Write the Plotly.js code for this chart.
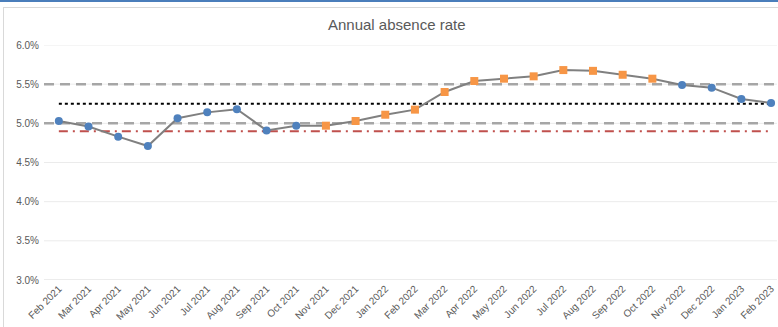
<!DOCTYPE html>
<html>
<head>
<meta charset="utf-8">
<script src="https://cdn.plot.ly/plotly-3.0.1.min.js"></script>
<style>
  html, body { margin: 0; padding: 0; background: #fff; overflow: hidden; }
  #topline { position: absolute; left: 0; top: 0; width: 778px; height: 2px; background: #4a7ebb; }
  #frame { position: absolute; left: 3px; top: 7px; width: 800px; height: 330px; border: 1px solid #d9d9d9; }
  #chart { position: absolute; left: 0; top: 0; width: 778px; height: 327px; }
</style>
</head>
<body>
<div id="topline"></div>
<div id="frame"></div>
<div id="chart"></div>
<script>
const months = ["Feb 2021","Mar 2021","Apr 2021","May 2021","Jun 2021","Jul 2021","Aug 2021","Sep 2021","Oct 2021","Nov 2021","Dec 2021","Jan 2022","Feb 2022","Mar 2022","Apr 2022","May 2022","Jun 2022","Jul 2022","Aug 2022","Sep 2022","Oct 2022","Nov 2022","Dec 2022","Jan 2023","Feb 2023"];
const rate = [5.03,4.96,4.83,4.71,5.065,5.14,5.18,4.91,4.97,4.97,5.03,5.11,5.175,5.40,5.54,5.57,5.60,5.68,5.67,5.62,5.57,5.49,5.455,5.31,5.26];
// true = highlighted (orange square) point
const highlighted = [false,false,false,false,false,false,false,false,false,true,true,true,true,true,true,true,true,true,true,true,true,false,false,false,false];
const yTicks = [3.0,3.5,4.0,4.5,5.0,5.5,6.0];
const upperLimit = 5.5;
const lowerLimit = 5.0;
const meanLine = 5.25;
const targetLine = 4.9;

const blueY = rate.map((v,i)=> highlighted[i] ? null : v/100);
const orangeY = rate.map((v,i)=> highlighted[i] ? v/100 : null);

const traces = [
  {x: months, y: months.map(()=>meanLine/100), mode:'lines', line:{color:'#000000', width:2, dash:'dot'}},
  {x: months, y: months.map(()=>targetLine/100), mode:'lines', line:{color:'#c0504d', width:2, dash:'9px,5px,2px,5px'}},
  {x: months, y: rate.map(v=>v/100), mode:'lines', line:{color:'#808080', width:2}},
  {x: months, y: blueY, mode:'markers', marker:{symbol:'circle', size:8, color:'#4f81bd'}},
  {x: months, y: orangeY, mode:'markers', marker:{symbol:'square', size:8, color:'#f79646'}}
];

const shapes = yTicks.map(t => ({
  type:'line', xref:'paper', yref:'y', x0:0, x1:1, y0:t/100, y1:t/100, layer:'below',
  line:{color: t === yTicks[0] ? '#d9d9d9' : '#ebebeb', width:1}
}));
shapes.push(
  {type:'line', xref:'paper', yref:'y', x0:0, x1:1, y0:upperLimit/100, y1:upperLimit/100, line:{color:'#a6a6a6', width:2.5, dash:'10px,6px'}, layer:'below'},
  {type:'line', xref:'paper', yref:'y', x0:0, x1:1, y0:lowerLimit/100, y1:lowerLimit/100, line:{color:'#a6a6a6', width:2.5, dash:'10px,6px'}, layer:'below'}
);

const layout = {
  width: 778, height: 327,
  margin: {l: 44, r: 1, t: 45, b: 47},
  paper_bgcolor: 'rgba(0,0,0,0)',
  plot_bgcolor: 'rgba(0,0,0,0)',
  showlegend: false,
  title: {text: 'Annual absence rate', x: 0.51, xanchor: 'center', y: 0.925, yanchor:'middle', font: {family: 'Liberation Sans, Arial, sans-serif', size: 15, color: '#595959'}},
  xaxis: {
    type: 'category', range: [-0.5, 24.2],
    tickangle: -45, tickfont: {family: 'Liberation Sans, Arial, sans-serif', size: 10, color: '#595959'},
    showgrid: false, zeroline: false, showline: false, ticks: ''
  },
  yaxis: {
    range: [0.03, 0.06], tickvals: yTicks.map(t=>t/100), tickformat: '.1%',
    tickfont: {family: 'Liberation Sans, Arial, sans-serif', size: 10, color: '#595959'},
    showgrid: false, zeroline: false, showline: false, ticks: '',
    ticklabelstandoff: 4
  },
  shapes: shapes
};
Plotly.newPlot('chart', traces, layout, {displayModeBar: false, staticPlot: true});
</script>
</body>
</html>
